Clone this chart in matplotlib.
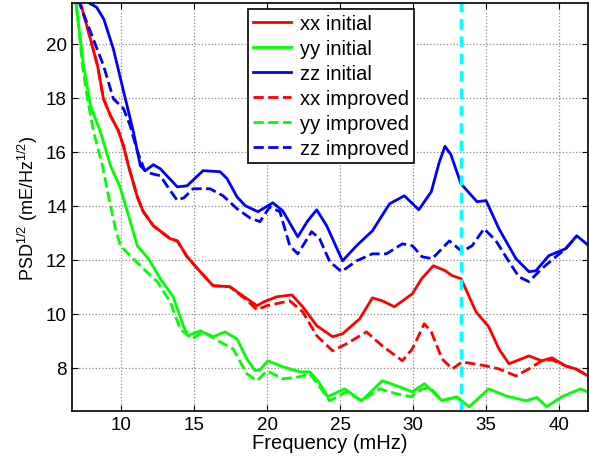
import matplotlib
matplotlib.use("Agg")
import matplotlib.pyplot as plt

plt.rcParams["font.family"] = ["Liberation Sans", "DejaVu Sans"]
plt.rcParams["mathtext.fontset"] = "custom"
plt.rcParams["mathtext.rm"] = "Liberation Sans"

# ── data (frequency in mHz, PSD^1/2 in mE/Hz^1/2) ──
xx_init_f = [6.9, 7.3, 7.74, 8.36, 8.77, 9.25, 9.79, 10.14, 10.48, 11.09, 11.5, 12.19,
             13.35, 13.83, 14.51, 15.4, 16.29, 17.45, 18.61, 19.3, 19.8, 20.66, 21.69,
             22.44, 23.4, 24.49, 25.17, 26.34, 27.22, 27.9, 28.73, 29.96, 30.6, 31.4,
             32.2, 32.7, 33.3, 34.33, 35.2, 35.9, 36.59, 37.96, 38.84, 39.53, 40.48,
             41.17, 42.0]
xx_init = [21.9, 21.3, 20.44, 19.19, 17.96, 17.33, 16.78, 16.22, 15.48, 14.33, 13.78, 13.26,
           12.78, 12.7, 12.11, 11.56, 11.04, 11.0, 10.56, 10.3, 10.45, 10.63, 10.7,
           10.26, 9.56, 9.15, 9.26, 9.81, 10.59, 10.48, 10.26, 10.74, 11.3, 11.78,
           11.6, 11.41, 11.3, 10.07, 9.52, 8.7, 8.15, 8.44, 8.26, 8.37, 8.07,
           7.96, 7.7]

yy_init_f = [6.8, 7.0, 7.4, 7.88, 8.56, 9.25, 9.9, 10.41, 11.09, 11.85, 12.67, 13.55,
             14.24, 14.58, 15.4, 16.29, 17.11, 17.93, 18.61, 19.16, 19.5, 20.05, 21.07,
             22.24, 22.92, 23.5, 24.15, 25.31, 26.47, 27.9, 29.07, 29.96, 30.78, 31.2,
             32.0, 33.0, 33.86, 35.2, 36.38, 37.75, 38.5, 39.18, 40.21, 41.51, 42.0]
yy_init = [21.8, 21.0, 19.19, 17.7, 16.74, 15.48, 14.7, 13.78, 12.52, 12.04, 11.3, 10.63,
           9.56, 9.19, 9.37, 9.15, 9.33, 9.07, 8.33, 7.9, 7.92, 8.26, 8.04,
           7.85, 7.85, 7.5, 6.93, 7.22, 6.78, 7.52, 7.3, 7.11, 7.41, 7.2,
           6.78, 6.93, 6.56, 7.22, 6.96, 6.78, 6.9, 6.56, 6.93, 7.22, 7.1]

zz_init_f = [7.0, 7.8, 8.3, 8.8, 9.45, 10.27, 10.82, 11.3, 11.64, 12.19, 12.67, 13.83,
             14.51, 15.6, 16.77, 17.25, 17.93, 18.5, 19.37, 20.39, 21.07, 22.1, 22.78,
             23.4, 24.08, 25.17, 26.13, 27.22, 28.39, 29.41, 30.4, 31.26, 31.8, 32.2,
             32.6, 33.3, 34.4, 35.02, 35.9, 37.07, 37.96, 38.43, 39.32, 40.48, 41.24, 42.0]
zz_init = [22.3, 21.5, 21.35, 20.9, 19.8, 17.96, 16.74, 15.48, 15.3, 15.52, 15.37, 14.7,
           14.74, 15.3, 15.26, 15.0, 14.33, 14.0, 13.78, 14.11, 13.81, 12.85, 13.44,
           13.85, 13.26, 11.96, 12.52, 13.07, 14.07, 14.37, 13.85, 14.52, 15.6, 16.2,
           15.9, 14.81, 14.15, 14.19, 13.15, 12.04, 11.56, 11.59, 12.15, 12.41, 12.89, 12.55]

xx_impr_f = [6.9, 7.3, 7.74, 8.36, 8.77, 9.25, 9.79, 10.14, 10.48, 11.09, 11.5, 12.19,
             13.35, 13.83, 14.51, 15.4, 16.29, 17.45, 18.61, 19.3, 19.98, 21.55, 22.44,
             23.4, 24.49, 25.45, 26.81, 27.9, 29.28, 29.96, 30.78, 31.26, 32.0, 32.7,
             33.38, 35.02, 35.9, 37.07, 37.96, 38.84, 39.53, 40.48, 41.17, 41.9]
xx_impr = [21.9, 21.3, 20.44, 19.19, 17.96, 17.33, 16.78, 16.22, 15.48, 14.33, 13.78, 13.26,
           12.78, 12.7, 12.11, 11.56, 11.04, 11.0, 10.5, 10.15, 10.3, 10.48, 10.07,
           9.19, 8.63, 8.89, 9.33, 8.81, 8.26, 8.7, 9.63, 9.33, 8.33, 7.96,
           8.22, 8.07, 7.96, 7.7, 7.96, 8.26, 8.3, 8.07, 7.96, 7.75]

yy_impr_f = [6.9, 7.33, 7.67, 8.09, 8.7, 9.11, 9.59, 9.93, 10.6, 11.5, 12.46, 13.35,
             14.03, 14.85, 15.6, 16.77, 17.66, 18.61, 19.3, 19.98, 21.07, 22.24, 22.92,
             23.6, 24.29, 25.45, 26.47, 27.7, 28.87, 29.89, 30.64, 31.2, 32.0, 33.0, 33.86]
yy_impr = [21.5, 19.19, 17.96, 16.74, 15.48, 14.37, 13.15, 12.52, 12.15, 11.67, 11.19, 10.44,
           9.44, 9.07, 9.33, 8.96, 8.7, 7.78, 7.52, 7.89, 7.59, 7.67, 7.78,
           7.3, 6.78, 7.11, 6.78, 7.22, 7.04, 6.93, 7.22, 7.25, 6.8, 6.9, 6.56]

zz_impr_f = [7.0, 7.33, 7.88, 8.77, 9.45, 10.14, 10.6, 11.1, 11.6, 12.0, 12.67, 13.3,
             13.83, 14.3, 14.92, 16.08, 16.97, 17.93, 18.82, 19.5, 20.18, 20.87, 21.55,
             22.1, 23.05, 23.6, 24.29, 25.1, 26.13, 27.22, 28.18, 29.28, 29.96, 30.64,
             31.33, 32.5, 33.38, 34.06, 34.88, 35.7, 36.59, 37.27, 37.96, 38.84, 39.8,
             40.48, 41.2]
zz_impr = [21.7, 21.19, 20.44, 19.19, 17.96, 17.6, 16.96, 16.0, 15.3, 15.2, 15.11, 14.6,
           14.2, 14.3, 14.63, 14.63, 14.37, 13.89, 13.55, 13.41, 13.96, 13.78, 12.52,
           12.22, 13.04, 12.78, 11.93, 11.56, 11.96, 12.22, 12.22, 12.59, 12.52, 12.11,
           12.04, 12.7, 12.3, 12.52, 13.15, 12.7, 11.93, 11.37, 11.19, 11.67, 12.11,
           12.41, 12.85]

f_marker = 33.33  # cyan reference line
labels = ["xx initial", "yy initial", "zz initial", "xx improved", "yy improved", "zz improved"]

fig = plt.figure(figsize=(5.89, 4.64), dpi=100)
ax = fig.add_axes([0.122, 0.112, 0.876, 0.879])

ax.plot(xx_init_f, xx_init, color="#ff0000", lw=2, label=labels[0])
ax.plot(yy_init_f, yy_init, color="#00ff00", lw=2, label=labels[1])
ax.plot(zz_init_f, zz_init, color="#0000ff", lw=2, label=labels[2])
ax.plot(xx_impr_f, xx_impr, color="#ff0000", lw=2, ls="--", label=labels[3])
ax.plot(yy_impr_f, yy_impr, color="#00ff00", lw=2, ls="--", label=labels[4])
ax.plot(zz_impr_f, zz_impr, color="#0000ff", lw=2, ls="--", label=labels[5])
ax.axvline(f_marker, color="#00ffff", lw=2.5, ls=(0, (3, 2)))

ax.set_xlim(6.6, 42)
ax.set_ylim(6.4, 21.5)
ax.set_xticks(range(10, 41, 5))
ax.set_yticks(range(8, 21, 2))
ax.grid(True, color="0.55", ls=":", lw=0.9)
ax.tick_params(direction="in", top=True, right=True, length=4, labelsize=13.5)
for s in ax.spines.values():
    s.set_linewidth(1.2)

ax.set_xlabel("Frequency (mHz)", fontsize=14.5, labelpad=0)
ax.set_ylabel(r"PSD$^{1/2}$ (mE/Hz$^{1/2}$)", fontsize=13, labelpad=4)

leg = ax.legend(loc="upper left", bbox_to_anchor=(0.341, 0.986), borderaxespad=0,
                fancybox=False, framealpha=1, edgecolor="black", fontsize=14.5,
                handlelength=1.9, handletextpad=0.45, labelspacing=0.3,
                borderpad=0.25)
leg.get_frame().set_linewidth(1.2)

fig.savefig("out.png", dpi=100)
